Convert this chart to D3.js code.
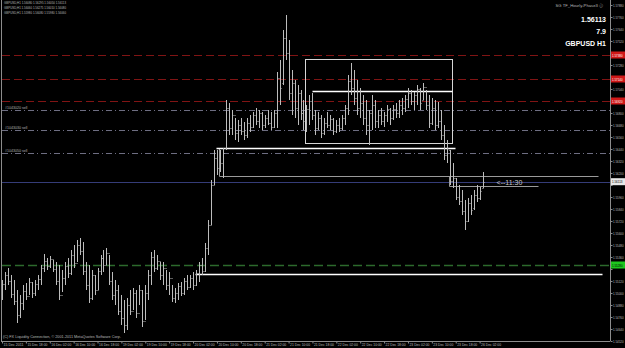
<!DOCTYPE html>
<html>
<head>
<meta charset="utf-8">
<script src="https://cdn.jsdelivr.net/npm/d3@7"></script>
<style>
  body { margin: 0; background: #000; }
  svg { display: block; }
  .axis path, .axis line { stroke: #8c8c8c; }
  .axis text { fill: #bdbdbd; font-family: "Liberation Sans", Arial, sans-serif; font-size: 3.6px; }
</style>
</head>
<body>
<svg id="chart"></svg>
<script>
// GBPUSD H1, 15 Dec 10:00 .. 26 Dec 04:00 (bar per hour)
const high = [
  1.5513,1.5521,1.5525,1.5518,1.5513,1.5503,1.5498,1.5508,1.5510,1.5515,
  1.5511,1.5513,1.5518,1.5528,1.5539,1.5535,1.5537,1.5533,1.5531,1.5528,
  1.5523,1.5531,1.5535,1.5543,1.5548,1.5553,1.5555,1.5551,1.5531,1.5528,
  1.5523,1.5518,1.5525,1.5538,1.5543,1.5545,1.5538,1.5521,1.5513,1.5508,
  1.5498,1.5493,1.5495,1.5503,1.5505,1.5503,1.5508,1.5503,1.5508,1.5523,
  1.5541,1.5543,1.5538,1.5531,1.5531,1.5523,1.5521,1.5508,1.5505,1.5510,
  1.5511,1.5515,1.5518,1.5518,1.5521,1.5523,1.5531,1.5535,1.5550,1.5573,
  1.5613,1.5643,1.5643,1.5643,1.5645,1.5693,1.5690,1.5683,1.5675,1.5673,
  1.5675,1.5671,1.5675,1.5678,1.5681,1.5685,1.5683,1.5681,1.5678,1.5683,
  1.5681,1.5683,1.5721,1.5733,1.5763,1.5778,1.5753,1.5723,1.5713,1.5708,
  1.5703,1.5693,1.5688,1.5698,1.5700,1.5683,1.5681,1.5678,1.5675,1.5681,
  1.5678,1.5675,1.5673,1.5675,1.5678,1.5688,1.5718,1.5730,1.5723,1.5713,
  1.5705,1.5698,1.5693,1.5683,1.5698,1.5693,1.5683,1.5685,1.5681,1.5688,
  1.5685,1.5688,1.5690,1.5693,1.5695,1.5698,1.5705,1.5703,1.5701,1.5708,
  1.5705,1.5710,1.5703,1.5698,1.5695,1.5693,1.5691,1.5683,1.5668,1.5653,
  1.5643,1.5630,1.5615,1.5608,1.5603,1.5593,1.5595,1.5598,1.5603,1.5608,1.5606,1.5621
];
const low = [
  1.5493,1.5503,1.5508,1.5495,1.5488,1.5470,1.5475,1.5483,1.5493,1.5498,
  1.5495,1.5497,1.5503,1.5508,1.5521,1.5523,1.5525,1.5521,1.5508,1.5493,
  1.5501,1.5508,1.5515,1.5518,1.5525,1.5531,1.5538,1.5518,1.5503,1.5490,
  1.5493,1.5498,1.5503,1.5518,1.5521,1.5528,1.5508,1.5493,1.5488,1.5478,
  1.5468,1.5460,1.5463,1.5478,1.5483,1.5475,1.5488,1.5466,1.5473,1.5493,
  1.5508,1.5521,1.5523,1.5513,1.5508,1.5503,1.5498,1.5491,1.5490,1.5493,
  1.5497,1.5498,1.5503,1.5505,1.5503,1.5507,1.5511,1.5518,1.5521,1.5538,
  1.5568,1.5608,1.5618,1.5621,1.5615,1.5643,1.5658,1.5658,1.5653,1.5651,
  1.5658,1.5653,1.5655,1.5661,1.5665,1.5668,1.5665,1.5663,1.5665,1.5668,
  1.5663,1.5665,1.5665,1.5688,1.5708,1.5733,1.5693,1.5678,1.5675,1.5668,
  1.5673,1.5663,1.5661,1.5668,1.5673,1.5658,1.5663,1.5655,1.5658,1.5665,
  1.5663,1.5658,1.5660,1.5661,1.5663,1.5668,1.5678,1.5698,1.5688,1.5678,
  1.5675,1.5668,1.5658,1.5648,1.5663,1.5665,1.5665,1.5668,1.5666,1.5671,
  1.5668,1.5673,1.5675,1.5675,1.5678,1.5681,1.5685,1.5688,1.5683,1.5688,
  1.5683,1.5693,1.5683,1.5665,1.5668,1.5663,1.5665,1.5653,1.5633,1.5630,
  1.5608,1.5605,1.5593,1.5588,1.5578,1.5563,1.5571,1.5578,1.5583,1.5591,1.5593,1.5605
];
const open = [
  1.5497,1.5509,1.5518,1.5512,1.5499,1.5492,1.5478,1.5490,1.5502,1.5497,
  1.5511,1.5500,1.5509,1.5514,1.5525,1.5532,1.5527,1.5534,1.5524,1.5512,
  1.5498,1.5515,1.5527,1.5520,1.5538,1.5530,1.5548,1.5542,1.5522,1.5508,
  1.5495,1.5518,1.5503,1.5522,1.5535,1.5528,1.5540,1.5512,1.5498,1.5503,
  1.5482,1.5475,1.5468,1.5488,1.5482,1.5500,1.5480,1.5503,1.5472,1.5500,
  1.5518,1.5536,1.5525,1.5532,1.5518,1.5525,1.5508,1.5515,1.5495,1.5500,
  1.5507,1.5500,1.5512,1.5506,1.5515,1.5508,1.5520,1.5528,1.5522,1.5545,
  1.5568,1.5608,1.5635,1.5625,1.5630,1.5645,1.5685,1.5665,1.5678,1.5660,
  1.5668,1.5662,1.5658,1.5670,1.5666,1.5678,1.5672,1.5680,1.5668,1.5675,
  1.5670,1.5666,1.5680,1.5715,1.5710,1.5755,1.5740,1.5700,1.5710,1.5685,
  1.5700,1.5680,1.5672,1.5684,1.5692,1.5678,1.5665,1.5675,1.5660,1.5670,
  1.5668,1.5674,1.5662,1.5668,1.5665,1.5675,1.5685,1.5712,1.5705,1.5695,
  1.5685,1.5690,1.5675,1.5668,1.5680,1.5688,1.5672,1.5678,1.5672,1.5678,
  1.5684,1.5675,1.5684,1.5680,1.5688,1.5685,1.5694,1.5700,1.5692,1.5698,
  1.5704,1.5693,1.5706,1.5688,1.5670,1.5685,1.5668,1.5672,1.5658,1.5638,
  1.5643,1.5612,1.5615,1.5596,1.5592,1.5582,1.5572,1.5590,1.5585,1.5598,1.5595,1.5605
];
const close = [
  1.5509,1.5518,1.5512,1.5499,1.5492,1.5478,1.5490,1.5502,1.5497,1.5511,
  1.5500,1.5509,1.5514,1.5525,1.5532,1.5527,1.5534,1.5524,1.5512,1.5498,
  1.5515,1.5527,1.5520,1.5538,1.5530,1.5548,1.5542,1.5522,1.5508,1.5495,
  1.5518,1.5503,1.5522,1.5535,1.5528,1.5540,1.5512,1.5498,1.5503,1.5482,
  1.5475,1.5468,1.5488,1.5482,1.5500,1.5480,1.5503,1.5472,1.5500,1.5518,
  1.5536,1.5525,1.5532,1.5518,1.5525,1.5508,1.5515,1.5495,1.5500,1.5507,
  1.5500,1.5512,1.5506,1.5515,1.5508,1.5520,1.5528,1.5522,1.5545,1.5568,
  1.5608,1.5635,1.5625,1.5630,1.5640,1.5685,1.5665,1.5678,1.5660,1.5668,
  1.5662,1.5658,1.5670,1.5666,1.5678,1.5672,1.5680,1.5668,1.5675,1.5670,
  1.5666,1.5680,1.5715,1.5705,1.5755,1.5740,1.5700,1.5710,1.5685,1.5700,
  1.5680,1.5672,1.5684,1.5692,1.5678,1.5665,1.5675,1.5660,1.5670,1.5668,
  1.5674,1.5662,1.5668,1.5665,1.5675,1.5685,1.5712,1.5705,1.5695,1.5685,
  1.5690,1.5675,1.5668,1.5680,1.5688,1.5672,1.5678,1.5672,1.5678,1.5684,
  1.5675,1.5684,1.5680,1.5688,1.5685,1.5694,1.5700,1.5692,1.5698,1.5704,
  1.5690,1.5706,1.5688,1.5670,1.5685,1.5668,1.5672,1.5658,1.5638,1.5645,
  1.5612,1.5615,1.5596,1.5592,1.5582,1.5572,1.5590,1.5583,1.5598,1.5595,1.5602,1.56113
];

const timeLabels = ["15 Dec 2011","15 Dec 18:00","16 Dec 02:00","16 Dec 10:00","16 Dec 18:00",
  "19 Dec 02:00","19 Dec 10:00","19 Dec 18:00","20 Dec 02:00","20 Dec 10:00","20 Dec 18:00",
  "21 Dec 02:00","21 Dec 10:00","21 Dec 18:00","22 Dec 02:00","22 Dec 10:00","22 Dec 18:00",
  "23 Dec 02:00","23 Dec 10:00","23 Dec 18:00","26 Dec 02:00"];
const priceTicks = [1.5788,1.5776,1.5764,1.5752,1.5740,1.5728,1.5716,1.5704,1.5692,1.5680,
  1.5668,1.5656,1.5644,1.5632,1.5620,1.5608,1.5596,1.5584,1.5572,1.5560,1.5548,1.5536,
  1.5524,1.5512,1.5500,1.5488,1.5476,1.5464,1.5452];

const bidPrice = 1.56113;
const redLevels = [1.5738, 1.5714, 1.5692];
const orderLevels = [1.5683, 1.5663, 1.5640];
const orderNames = ["#1043020 sell", "#1043030 sell", "#1043050 sell"];
const greenLevel = 1.5528;
// hand drawn objects in bar / price units
const whiteLines = [[71.7, 151.8, 1.5645], [103.9, 150.8, 1.5702], [64.7, 201, 1.5519]];
const boxes = [[101.5, 150.8, 1.5734, 1.5650]];
const greyLines = [[72.7, 199.7, 1.5617, 1.5617], [72.7, 72.7, 1.5645, 1.5617],
  [149.7, 179.6, 1.5607, 1.5607], [149.7, 149.7, 1.5617, 1.5607]];

const W = 625, H = 348, plotR = 610, plotB = 341;
const svg = d3.select("#chart").attr("width", W).attr("height", H);
svg.append("rect").attr("width", W).attr("height", H).attr("fill", "#000");

const x = d3.scaleLinear().domain([0, high.length - 1]).range([2, 482.6]);
const y = d3.scaleLinear().domain([1.5452, 1.5788]).range([341, 5]);
const px = (v) => Math.round(x(v)) + 0.5;
const py = (v) => Math.round(y(v)) + 0.5;
const tiny = (s) => `${s}px 'Liberation Sans', Arial, sans-serif`;
const tagPrices = redLevels.concat([greenLevel, bidPrice]);

const g = svg.append("g");

// levels
g.selectAll(".red").data(redLevels).enter().append("line")
  .attr("x1", 2).attr("x2", plotR).attr("y1", py).attr("y2", py)
  .attr("stroke", "#801414").attr("stroke-dasharray", "8,4");
g.selectAll(".ord").data(orderLevels).enter().append("line")
  .attr("x1", 2).attr("x2", plotR).attr("y1", py).attr("y2", py)
  .attr("stroke", "#6e6e82").attr("stroke-dasharray", "6,3,1,3");
g.selectAll(".ordtxt").data(orderLevels).enter().append("text")
  .attr("x", 5).attr("y", (d) => py(d) - 2)
  .attr("fill", "#b0b0b0").style("font", tiny(3.6))
  .text((d, i) => orderNames[i]);
g.append("line").attr("x1", 2).attr("x2", plotR).attr("y1", py(greenLevel)).attr("y2", py(greenLevel))
  .attr("stroke", "#2c6a2c").attr("stroke-width", 1.5).attr("stroke-dasharray", "9,4");
g.append("line").attr("x1", 2).attr("x2", plotR).attr("y1", py(bidPrice)).attr("y2", py(bidPrice))
  .attr("stroke", "#353c78");

// boxes and lines
g.selectAll(".box").data(boxes).enter().append("rect")
  .attr("x", (d) => px(d[0])).attr("y", (d) => py(d[2]))
  .attr("width", (d) => px(d[1]) - px(d[0])).attr("height", (d) => py(d[3]) - py(d[2]))
  .attr("fill", "none").attr("stroke", "#d6d6d6");
g.selectAll(".gl").data(greyLines).enter().append("line")
  .attr("x1", (d) => px(d[0])).attr("x2", (d) => px(d[1]))
  .attr("y1", (d) => py(d[2])).attr("y2", (d) => py(d[3]))
  .attr("stroke", "#9a9a9a");
g.selectAll(".wl").data(whiteLines).enter().append("line")
  .attr("x1", (d) => px(d[0])).attr("x2", (d) => px(d[1]))
  .attr("y1", (d) => py(d[2])).attr("y2", (d) => py(d[2]))
  .attr("stroke", "#fff").attr("stroke-width", 1.5);

// OHLC bars
const bars = g.selectAll(".bar").data(high).enter().append("g").attr("stroke", "#bcbcbc");
bars.append("line").attr("x1", (d, i) => px(i)).attr("x2", (d, i) => px(i))
  .attr("y1", (d) => y(d)).attr("y2", (d, i) => y(low[i]));
bars.append("line").attr("x1", (d, i) => px(i) - 1).attr("x2", (d, i) => px(i))
  .attr("y1", (d, i) => py(open[i])).attr("y2", (d, i) => py(open[i]));
bars.append("line").attr("x1", (d, i) => px(i)).attr("x2", (d, i) => px(i) + 1)
  .attr("y1", (d, i) => py(close[i])).attr("y2", (d, i) => py(close[i]));

svg.append("text").attr("x", x(high.length - 1) + 14).attr("y", py(bidPrice) + 2)
  .attr("fill", "#c8c8c8").style("font", tiny(7)).text("<--11:30");

// axes
const yAxis = d3.axisRight(y).tickValues(priceTicks).tickSize(2).tickPadding(0.5).tickFormat(d3.format(".5f"));
svg.append("g").attr("class", "axis").attr("transform", `translate(${plotR + 0.5},0)`).call(yAxis)
  .call((a) => a.select(".domain").attr("d", `M0,0V${plotB}`))
  .call((a) => a.selectAll(".tick text").attr("textLength", 10.5).attr("lengthAdjust", "spacingAndGlyphs")
    .style("display", (d) => (tagPrices.some((t) => Math.abs(y(t) - y(d)) < 6) ? "none" : null)));
const xAxis = d3.axisBottom(x).tickValues(timeLabels.map((d, i) => i * 8)).tickSize(2)
  .tickFormat((d, i) => timeLabels[i]);
svg.append("g").attr("class", "axis").attr("transform", `translate(0,${plotB + 0.5})`).call(xAxis)
  .call((a) => a.select(".domain").attr("d", `M1,0H${plotR}`))
  .call((a) => a.selectAll(".tick text").attr("text-anchor", "start").attr("dx", 1).attr("y", 1.5)
    .attr("textLength", 20).attr("lengthAdjust", "spacingAndGlyphs"));
svg.append("line").attr("x1", 1.5).attr("x2", 1.5).attr("y1", 0).attr("y2", plotB).attr("stroke", "#8c8c8c");

// coloured price tags
const tag = (p, fill, txt) => {
  svg.append("rect").attr("x", plotR + 1).attr("y", y(p) - 3.5).attr("width", 14).attr("height", 7).attr("fill", fill);
  svg.append("text").attr("x", plotR + 2).attr("y", y(p) + 1.5).attr("fill", txt)
    .attr("textLength", 10.5).attr("lengthAdjust", "spacingAndGlyphs")
    .style("font", tiny(3.6)).text(d3.format(".5f")(p));
};
redLevels.forEach((p) => tag(p, "#d01818", "#fff"));
tag(greenLevel, "#1ec81e", "#000");
tag(bidPrice, "#e8e8e8", "#000");

// info texts
const info = ["GBPUSD,H1  1.56080 1.56295 1.56050 1.56113",
  "GBPUSD,H1  1.56060 1.56275 1.56010 1.56080",
  "GBPUSD,H1  1.55980 1.56080 1.55980 1.56060"];
svg.selectAll(".info").data(info).enter().append("text")
  .attr("x", 4).attr("y", (d, i) => 4 + i * 5)
  .attr("textLength", 62).attr("lengthAdjust", "spacingAndGlyphs")
  .attr("fill", "#b8b8b8").style("font", tiny(3.4)).text((d) => d);
svg.append("text").attr("x", 603).attr("y", 7).attr("text-anchor", "end").attr("fill", "#b8b8b8")
  .style("font", tiny(4.2)).text("SG TF_Hourly-Phase3 \u24D8");
const bigTxt = ["1.56113", "7.9", "GBPUSD H1"];
svg.selectAll(".big").data(bigTxt).enter().append("text")
  .attr("x", 606).attr("y", (d, i) => 22 + i * 12).attr("text-anchor", "end").attr("fill", "#fff")
  .style("font", "bold 7px 'Liberation Sans', Arial, sans-serif").text((d) => d);
svg.append("text").attr("x", 3).attr("y", 338).attr("fill", "#b8b8b8")
  .attr("textLength", 118).attr("lengthAdjust", "spacingAndGlyphs")
  .style("font", tiny(3.6))
  .text("(C) FX Liquidity Connection, \u00A9 2001-2011 MetaQuotes Software Corp.");
</script>
</body>
</html>
